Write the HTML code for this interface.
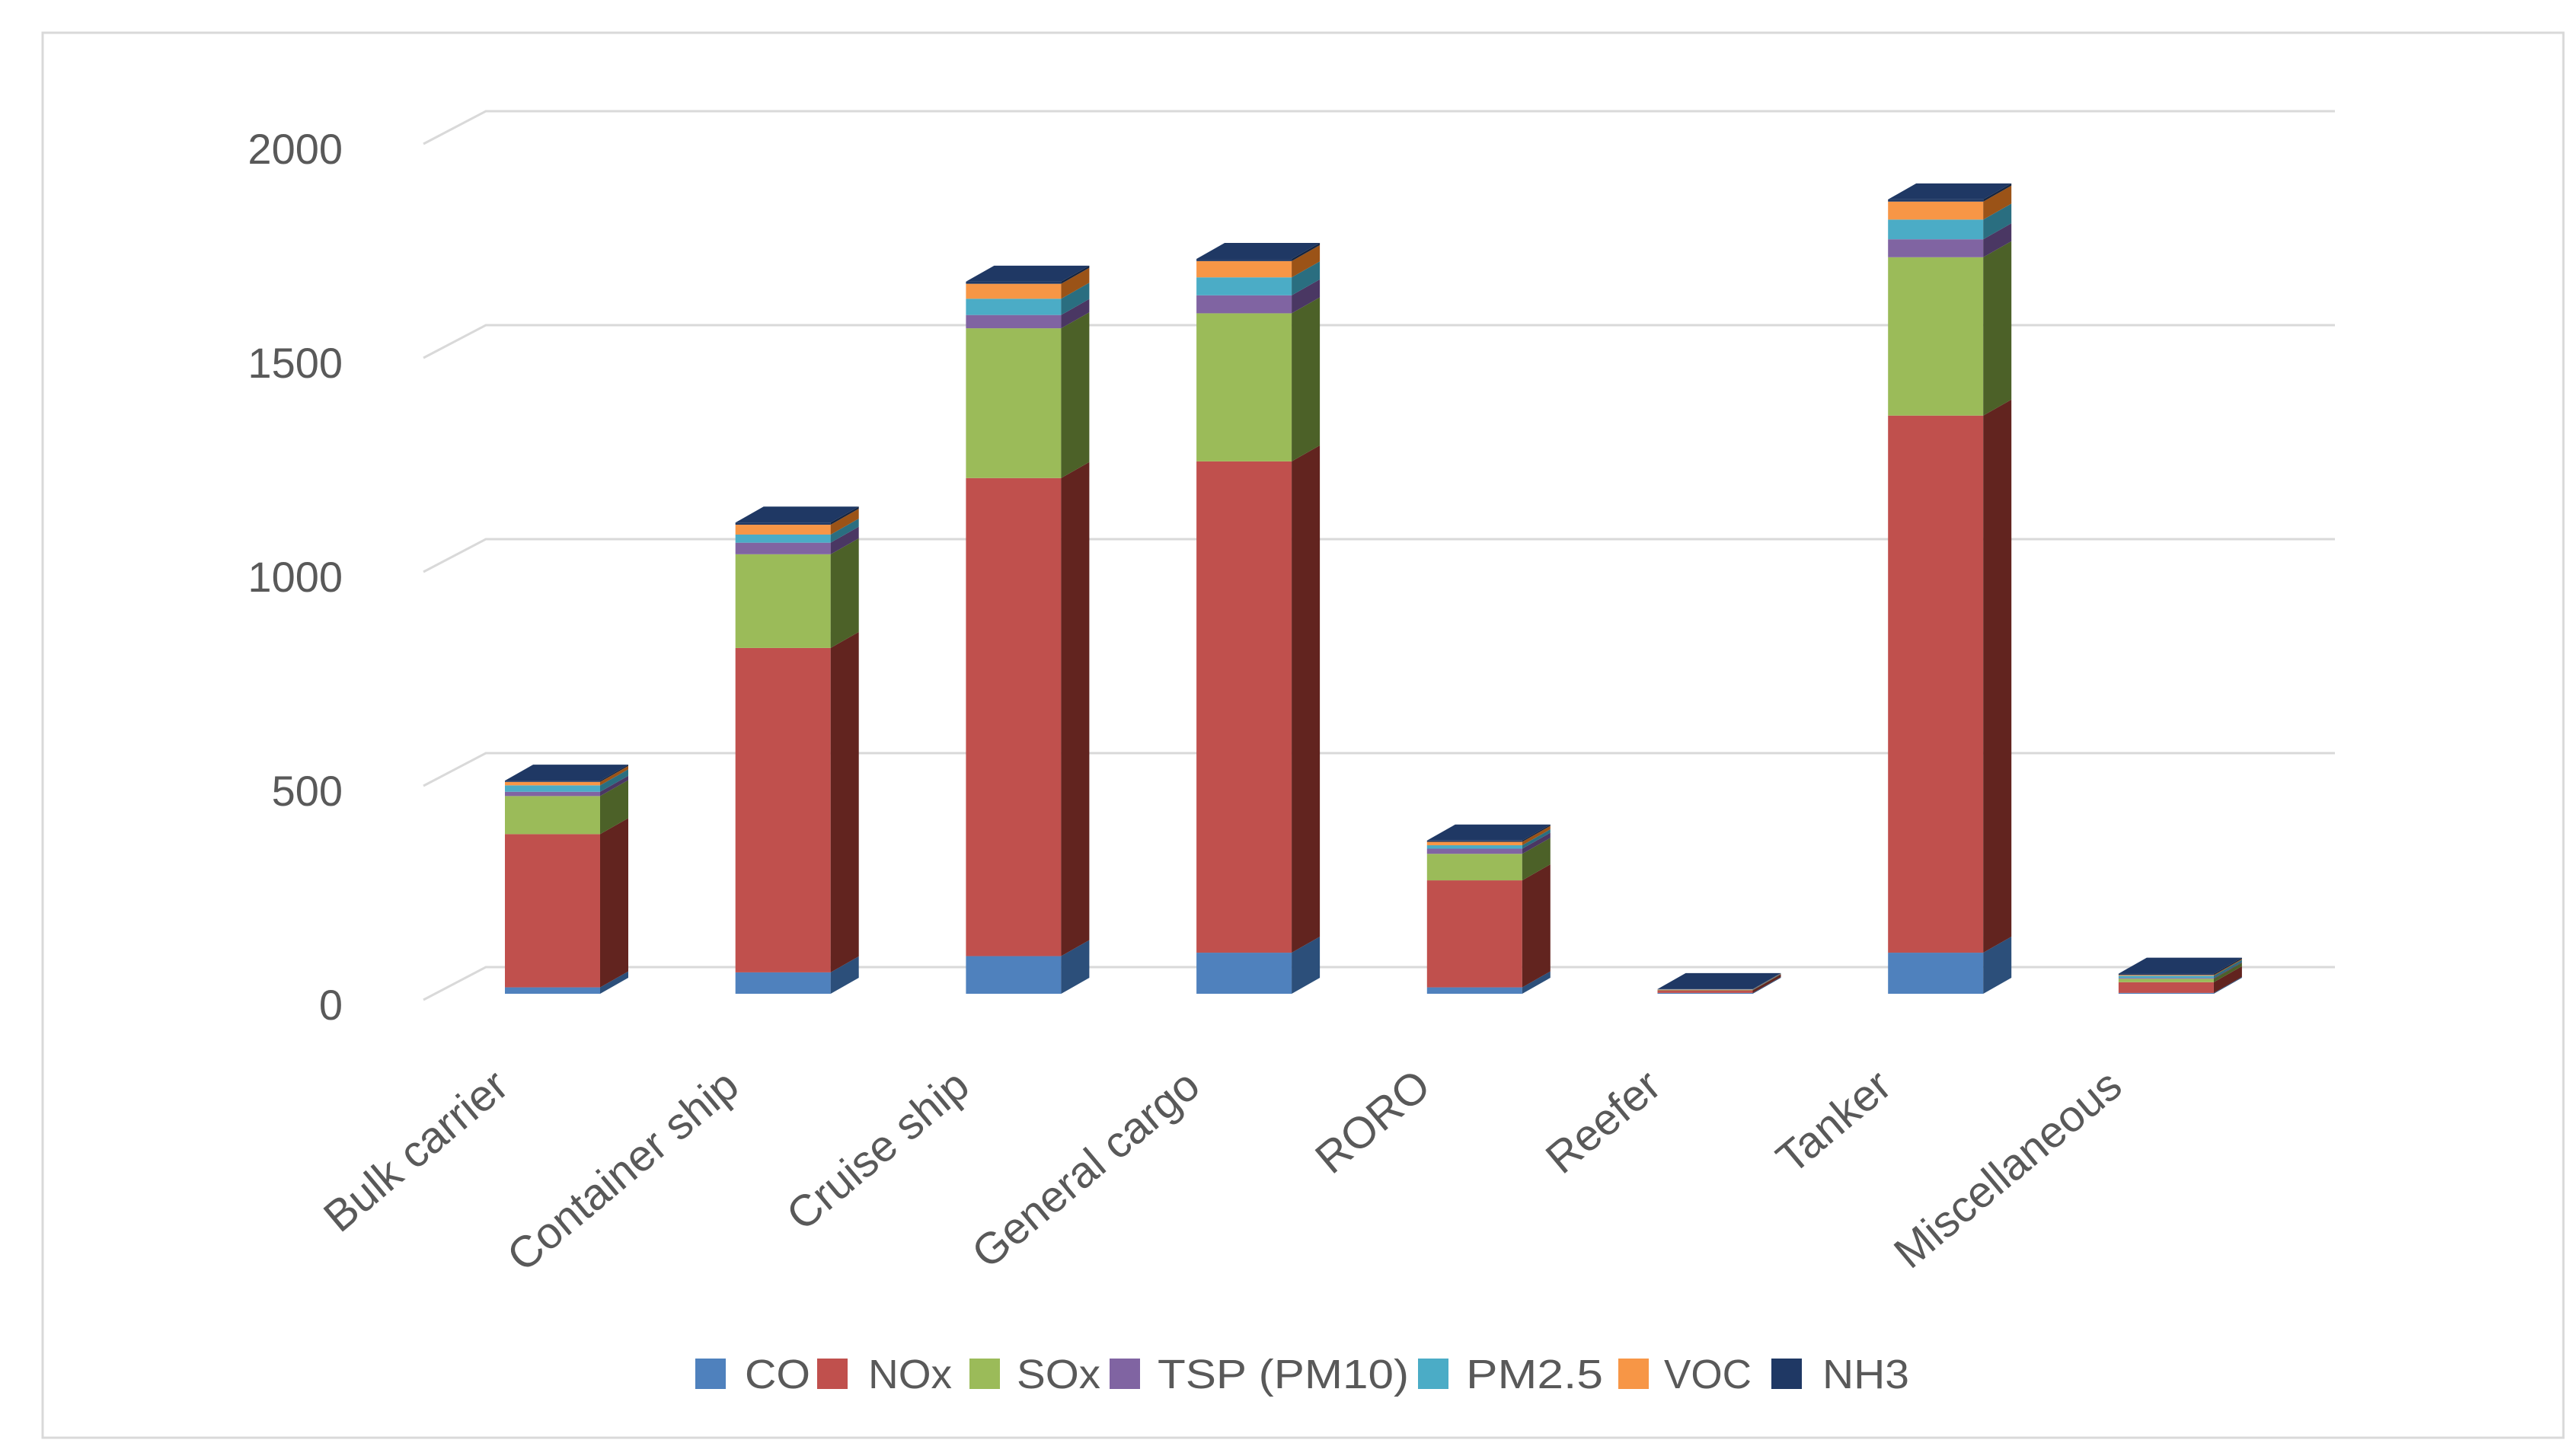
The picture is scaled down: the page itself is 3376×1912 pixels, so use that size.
<!DOCTYPE html>
<html><head><meta charset="utf-8"><style>
html,body{margin:0;padding:0;background:#fff;}
svg{display:block;font-family:"Liberation Sans",sans-serif;}
</style></head><body>
<svg id="chart" width="3376" height="1912" viewBox="0 0 3376 1912" xmlns="http://www.w3.org/2000/svg">
<rect x="56" y="43" width="3310" height="1845" fill="#fff" stroke="#d9d9d9" stroke-width="3"/>
<g id="grid"></g><g id="bars"></g><g id="xlabels"></g><g id="legend"></g>
</svg>
<script>
const categories=["Bulk carrier","Container ship","Cruise ship","General cargo","RORO","Reefer","Tanker","Miscellaneous"];
const seriesNames=["CO","NOx","SOx","TSP (PM10)","PM2.5","VOC","NH3"];
const CO=[15,50,88,96,15,2,96,2];
const NOx=[358,758,1117,1148,250,6,1255,25];
const SOx=[89,219,350,346,62,1,370,8];
const TSP=[10,27,31,42,12,0.5,42,2];
const PM25=[15,19,38,42,8,0.5,46,5];
const VOC=[8,23,35,38,8,0.5,42,2];
const NH3=[3,5,5,5,3,0.5,5,3];
const yTicks=[0,500,1000,1500,2000];
const series=[CO,NOx,SOx,TSP,PM25,VOC,NH3];
const colors=["#4f81bd","#c0504d","#9bbb59","#8064a2","#4bacc6","#f79646","#1f3864"];
const sides=["#2c4f7a","#62241f","#4c6128","#4a3763","#2a6e80","#9b5317","#142440"];
const NS="http://www.w3.org/2000/svg";
const S=0.562, backBase=1270, frontBase=1305, DX=37, DY=21;
function yBack(v){return backBase-v*S;}
function yFront(v){return frontBase-v*S;}
function xBar(i){return 663+i*302.7;}
function mk(tag,attrs,parent){const e=document.createElementNS(NS,tag);for(const k in attrs)e.setAttribute(k,attrs[k]);parent.appendChild(e);return e;}
const grid=document.getElementById('grid');
yTicks.forEach(v=>{
  const y=yBack(v);
  const l=mk('polyline',{points:`556,${y+43} 638,${y} 3066,${y}`,fill:'none',stroke:'#d9d9d9','stroke-width':3},grid);
  
  
  const t=mk('text',{x:450,y:y+43+26,'text-anchor':'end','font-size':56,fill:'#595959'},grid);
  t.textContent=v;
  
  
});
const bars=document.getElementById('bars');
categories.forEach((c,i)=>{
  const x=xBar(i), w=125;
  let cum=0;
  const g=mk('g',{},bars);
  
  
  series.forEach((s,k)=>{
    const y0=yFront(cum), y1=yFront(cum+s[i]);
    const r=mk('rect',{x:x,y:y1,width:w,height:Math.max(0,y0-y1),fill:colors[k]},g);
    
    
    const p=mk('polygon',{points:`${x+w},${y0} ${x+w+DX},${y0-DY} ${x+w+DX},${y1-DY} ${x+w},${y1}`,fill:sides[k]},g);
    
    
    cum+=s[i];
  });
  const yt=yFront(cum);
  const top=mk('polygon',{points:`${x},${yt} ${x+w},${yt} ${x+w+DX},${yt-DY} ${x+DX},${yt-DY}`,fill:'#1f3864'},g);
  
  
  const xl=document.getElementById('xlabels');
  const t=mk('text',{x:x+8,y:1432,'text-anchor':'end','font-size':58,fill:'#595959',transform:`rotate(-40 ${x+8} 1432)`},xl);
  t.textContent=c;
  
  
});
const leg=document.getElementById('legend');
const lx=[913,1073,1273,1457,1862,2125,2326];
const tx=[978,1140,1335,1520,1925,2185,2393];
const tw=[86,110,110,330,180,115,114];
seriesNames.forEach((n,k)=>{
  const g=mk('g',{},leg);
  
  
  mk('rect',{x:lx[k],y:1784,width:40,height:40,fill:colors[k]},g);
  const t=mk('text',{x:tx[k],y:1823,'font-size':54,fill:'#595959',textLength:tw[k],lengthAdjust:'spacingAndGlyphs'},g);
  t.textContent=n;
});
</script>
</body></html>
